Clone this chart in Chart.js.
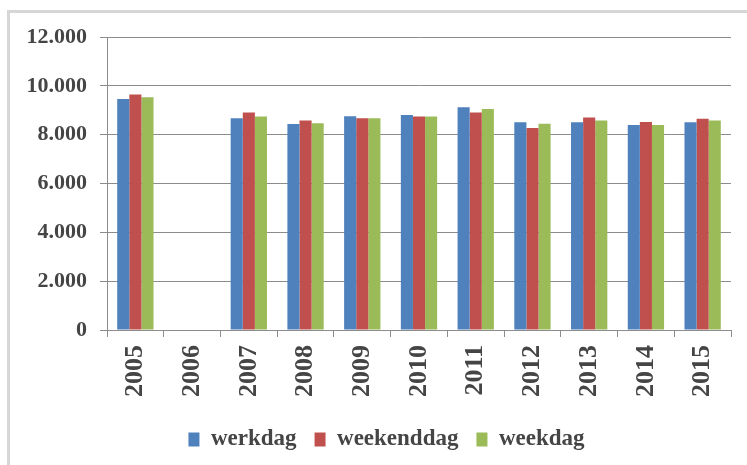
<!DOCTYPE html>
<html>
<head>
<meta charset="utf-8">
<script src="https://cdn.jsdelivr.net/npm/chart.js@4/dist/chart.umd.min.js"></script>
<style>
  body { margin: 0; background: #fff; }
  .frame {
    position: absolute; left: 7px; top: 10px; width: 740px; height: 455px;
    border-left: 3px solid #d6d6d6; border-top: 3px solid #d6d6d6;
  }
  .wrap { position: absolute; left: 0; top: 0; width: 747px; height: 465px; }
</style>
</head>
<body>
<div class="frame"></div>
<div class="wrap"><canvas id="chart"></canvas></div>
<script>
// --- DATA --- //
const years = ['2005', '2006', '2007', '2008', '2009', '2010', '2011', '2012', '2013', '2014', '2015'];
const werkdag = [9460, null, 8670, 8440, 8750, 8810, 9120, 8510, 8510, 8400, 8510];
const weekenddag = [9650, null, 8910, 8580, 8670, 8740, 8910, 8270, 8700, 8520, 8650];
const weekdag = [9530, null, 8740, 8470, 8670, 8740, 9050, 8450, 8580, 8400, 8580];
const yTicks = [0, 2000, 4000, 6000, 8000, 10000, 12000];

const labelFont = { family: "'Liberation Serif', serif", weight: 'bold' };
const textColor = '#454545';
const lineColor = '#8c8c8c';

function fmt(v) {
  return String(v).replace(/\B(?=(\d{3})+$)/g, '.');
}

// nudge the legend a bit to the right, like the original
const shiftLegend = {
  id: 'shiftLegend',
  afterLayout(chart) {
    chart.legend.left += 16;
    chart.legend.right += 16;
  }
};

const ctx = document.getElementById('chart');

new Chart(ctx, {
  type: 'bar',
  data: {
    labels: years,
    datasets: [
      { label: 'werkdag', data: werkdag, backgroundColor: '#4f81bd' },
      { label: 'weekenddag', data: weekenddag, backgroundColor: '#c0504d' },
      { label: 'weekdag', data: weekdag, backgroundColor: '#9bbb59' }
    ]
  },
  options: {
    responsive: true,
    maintainAspectRatio: false,
    animation: false,
    devicePixelRatio: 1,
    categoryPercentage: 0.64,
    barPercentage: 1,
    layout: { padding: { left: 10, right: 16, top: 37, bottom: 4 } },
    scales: {
      x: {
        grid: {
          drawOnChartArea: false,
          drawTicks: true,
          tickLength: 7,
          color: lineColor
        },
        border: { color: lineColor, width: 1 },
        ticks: {
          minRotation: 90,
          maxRotation: 90,
          padding: 8,
          color: textColor,
          font: { ...labelFont, size: 26 }
        },
        afterFit: scale => { scale.height = 80; }
      },
      y: {
        min: 0,
        max: 12000,
        afterBuildTicks: scale => { scale.ticks = yTicks.map(v => ({ value: v })); },
        grid: { color: lineColor, tickLength: 7 },
        border: { color: lineColor, width: 1 },
        ticks: {
          padding: 13,
          color: textColor,
          font: { ...labelFont, size: 22 },
          callback: v => fmt(v)
        },
        afterFit: scale => { scale.width = 97; }
      }
    },
    plugins: {
      legend: {
        position: 'bottom',
        labels: {
          boxWidth: 11,
          boxHeight: 14,
          padding: 18,
          color: textColor,
          font: { ...labelFont, size: 23 }
        }
      },
      tooltip: { enabled: false }
    }
  },
  plugins: [shiftLegend]
});
</script>
</body>
</html>
